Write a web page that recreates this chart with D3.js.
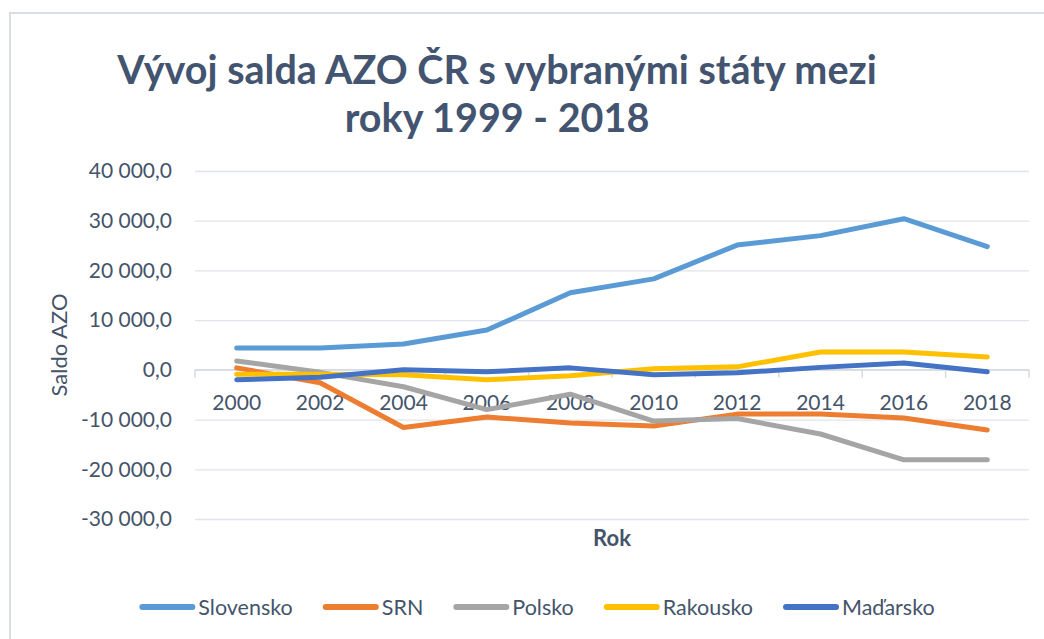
<!DOCTYPE html>
<html>
  <head>
    <title>Saldo AZO</title>
    <script src="https://d3js.org/d3.v7.min.js"></script>
    <style>
      html, body { margin: 0; padding: 0; background: #fff; overflow: hidden; }
      svg { display: block; }
      .axis .domain { display: none; }
      .grid .tick line { stroke: #e0e3e9; stroke-width: 1.3px; }
    </style>
  </head>
  <body>
    <svg width="1044" height="639" font-family="Lato, 'Open Sans', sans-serif"></svg>
    <script>
      const years = ["2000", "2002", "2004", "2006", "2008", "2010", "2012", "2014", "2016", "2018"];
      const slovensko = [4400, 4400, 5200, 8000, 15500, 18300, 25100, 27000, 30400, 24800];
      const srn = [400, -2600, -11600, -9500, -10700, -11300, -8900, -8900, -9700, -12100];
      const polsko = [1800, -500, -3400, -8000, -4900, -10300, -9800, -12900, -18100, -18100];
      const rakousko = [-900, -900, -1000, -2000, -1200, 200, 600, 3600, 3600, 2600];
      const madarsko = [-2000, -1500, 0, -400, 400, -1000, -600, 500, 1400, -400];
      const seriesNames = ["Slovensko", "SRN", "Polsko", "Rakousko", "Maďarsko"];
      const seriesColors = ["#5B9BD5", "#ED7D31", "#A5A5A5", "#FFC000", "#4472C4"];
      const yTicks = [-30000, -20000, -10000, 0, 10000, 20000, 30000, 40000];

      const textColor = "#44546A";
      const fontFamily = "Lato, 'Open Sans', sans-serif";

      const series = [slovensko, srn, polsko, rakousko, madarsko].map((values, i) => ({
        name: seriesNames[i],
        color: seriesColors[i],
        values: values
      }));

      const margin = {top: 171, right: 15, bottom: 120, left: 195};
      const svg = d3.select("svg");
      const width = +svg.attr("width");
      const height = +svg.attr("height");
      const innerWidth = width - margin.left - margin.right;
      const innerHeight = height - margin.top - margin.bottom;

      const locale = d3.formatLocale({decimal: ",", thousands: "\u00a0", grouping: [3], currency: ["", ""], minus: "-"});
      const fmt = locale.format(",.1f");

      // chart frame: only the top and left edges are visible
      svg.append("path")
          .attr("d", `M10,${height}V13H${width}`)
          .attr("fill", "none")
          .attr("stroke", "#d9dde5")
          .attr("stroke-width", 2);

      const titleLines = ["Vývoj salda AZO ČR s vybranými státy mezi", "roky 1999 - 2018"];
      svg.selectAll(".title")
        .data(titleLines)
        .enter().append("text")
          .attr("class", "title")
          .attr("x", 497)
          .attr("y", (d, i) => 84 + i * 48)
          .attr("text-anchor", "middle")
          .attr("font-family", fontFamily)
          .attr("font-size", 39.5)
          .attr("font-weight", "bold")
          .attr("fill", "#435470")
          .text(d => d);

      const xScale = d3.scaleBand().domain(years).range([0, innerWidth]);
      const yScale = d3.scaleLinear().domain([-30000, 40000]).range([innerHeight, 0]);
      const xMid = d => xScale(d) + xScale.bandwidth() / 2;

      const g = svg.append("g")
          .attr("transform", `translate(${margin.left}, ${margin.top})`);

      const yAxis = d3.axisLeft(yScale)
        .tickValues(yTicks)
        .tickFormat(fmt)
        .tickSizeInner(-innerWidth)
        .tickSizeOuter(0)
        .tickPadding(23);

      g.append("g")
          .attr("class", "axis grid")
          .call(yAxis)
          .attr("font-family", fontFamily)
          .attr("font-size", 21)
        .selectAll("text")
          .attr("fill", textColor);

      // category axis sits on the zero line
      const x0 = yScale(0);
      const xAxisG = g.append("g")
          .attr("class", "axis")
          .attr("transform", `translate(0, ${x0})`);
      xAxisG.call(d3.axisBottom(xScale).tickSize(0))
          .attr("font-family", fontFamily)
          .attr("font-size", 21);
      xAxisG.selectAll(".tick text")
          .attr("y", 40)
          .attr("dy", null)
          .attr("fill", textColor);
      xAxisG.append("line")
          .attr("x1", 0).attr("x2", innerWidth)
          .attr("stroke", "#d6dae2").attr("stroke-width", 1.5);
      xAxisG.selectAll(".bound")
        .data(years.map(d => xScale(d)).concat([innerWidth]))
        .enter().append("line")
          .attr("class", "bound")
          .attr("x1", d => d).attr("x2", d => d)
          .attr("y1", 0).attr("y2", 8)
          .attr("stroke", "#d6dae2").attr("stroke-width", 1.5);

      const line = d3.line()
        .x((d, i) => xMid(years[i]))
        .y(d => yScale(d));

      g.selectAll(".series")
        .data(series)
        .enter().append("path")
          .attr("class", "series")
          .attr("fill", "none")
          .attr("stroke", d => d.color)
          .attr("stroke-width", 5)
          .attr("stroke-linejoin", "round")
          .attr("stroke-linecap", "round")
          .attr("d", d => line(d.values));

      svg.append("text")
          .attr("transform", `translate(67, ${margin.top + innerHeight / 2}) rotate(-90)`)
          .attr("text-anchor", "middle")
          .attr("font-family", fontFamily)
          .attr("font-size", 22)
          .attr("fill", textColor)
          .text("Saldo AZO");

      svg.append("text")
          .attr("x", margin.left + innerWidth / 2)
          .attr("y", 546)
          .attr("text-anchor", "middle")
          .attr("font-family", fontFamily)
          .attr("font-size", 22)
          .attr("font-weight", "bold")
          .attr("fill", textColor)
          .text("Rok");

      // legend
      const legend = svg.append("g").attr("class", "legend");
      const items = legend.selectAll("g")
        .data(series)
        .enter().append("g");
      items.append("line")
          .attr("x1", 3).attr("x2", 53)
          .attr("y1", 0).attr("y2", 0)
          .attr("stroke", d => d.color)
          .attr("stroke-width", 6)
          .attr("stroke-linecap", "round");
      items.append("text")
          .attr("x", 59)
          .attr("dy", "0.35em")
          .attr("font-family", fontFamily)
          .attr("font-size", 21.5)
          .attr("fill", textColor)
          .text(d => d.name);
      let pos = 0;
      const offsets = [];
      items.each(function(){
        offsets.push(pos);
        pos += 59 + this.querySelector("text").getComputedTextLength() + 30;
      });
      const total = pos - 30;
      const start = 537 - total / 2;
      items.attr("transform", (d, i) => `translate(${start + offsets[i]}, 607)`);
    </script>
  </body>
</html>
